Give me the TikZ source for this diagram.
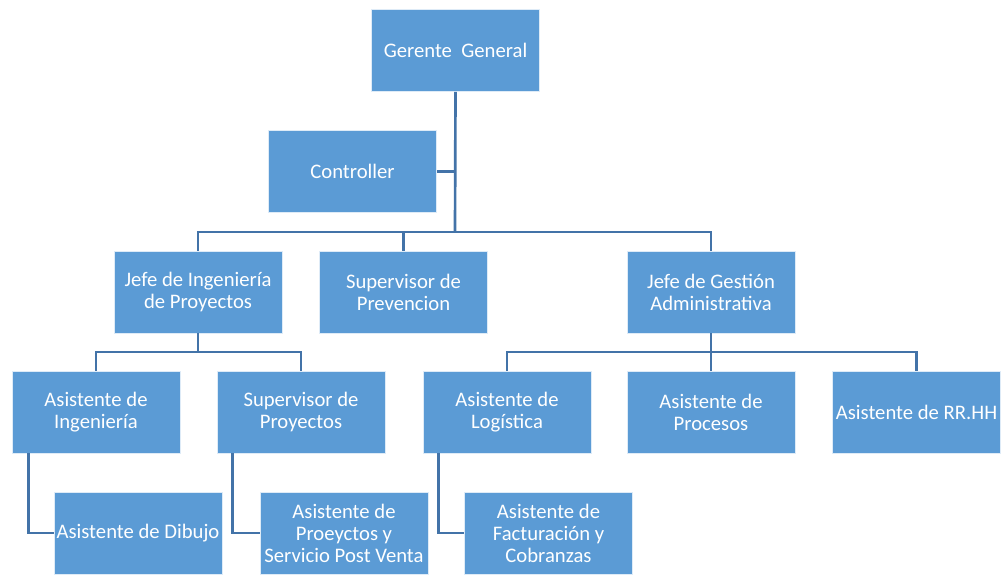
\documentclass[tikz,border=0pt]{standalone}
\usepackage{fontspec}
\setmainfont{Carlito}
\definecolor{boxblue}{HTML}{5B9BD5}
\definecolor{linkblue}{HTML}{4373A8}
\begin{document}
\begin{tikzpicture}[x=0.75pt,y=-0.75pt,
  unit/.style={rectangle, fill=boxblue, draw=white!80!boxblue, line width=0.6pt,
    minimum width=126pt, minimum height=61.5pt, inner sep=0pt, align=center,
    text=white, font=\fontsize{15.5}{16.5}\selectfont},
  link/.style={draw=linkblue, line width=2pt}]
\useasboundingbox (0,0) rectangle (1003,575);

% top of the chart
\node[unit] (gg)   at (455.5,50.5) {Gerente\ \ General};
\node[unit] (ctrl) at (352.5,171.5) {Controller};

% second level
\node[unit] (jip) at (198,292)   {Jefe de Ingeniería\\de Proyectos};
\node[unit] (sp)  at (403.5,292) {Supervisor de\\Prevencion};
\node[unit] (jga) at (711,292)   {Jefe de Gestión\\Administrativa};

% third level
\node[unit] (ai)  at (96,412)    {Asistente de\\Ingeniería};
\node[unit] (spy) at (301,412)   {Supervisor de\\Proyectos};
\node[unit] (al)  at (507,412)   {Asistente de\\Logística};
\node[unit] (ap)  at (711,412)   {Asistente de\\Procesos};
\node[unit] (arh) at (916.5,412) {Asistente de RR.HH};

% assistants hanging to the side
\node[unit] (ad)   at (138,533)   {Asistente de Dibujo};
\node[unit] (apsv) at (344,533)   {Asistente de\\Proeyctos y\\Servicio Post Venta};
\node[unit] (afc)  at (548.5,533) {Asistente de\\Facturación y\\Cobranzas};

% bus junctions
\coordinate (b1) at (455,232);
\coordinate (b2) at (198,352);
\coordinate (b3) at (711,352);

% connectors
\draw[link] (gg.south) -- (b1);
\draw[link] (ctrl.east) -- (ctrl.east -| b1);
\draw[link] (jip.north) |- (b1);
\draw[link] (sp.north) |- (b1);
\draw[link] (jga.north) |- (b1);

\draw[link] (jip.south) -- (b2);
\draw[link] (ai.north) |- (b2);
\draw[link] (spy.north) |- (b2);

\draw[link] (jga.south) -- (b3);
\draw[link] (al.north) |- (b3);
\draw[link] (ap.north) -- (b3);
\draw[link] (arh.north) |- (b3);

\draw[link] ([xshift=12.5pt]ai.south west) |- (ad.west);
\draw[link] ([xshift=12pt]spy.south west) |- (apsv.west);
\draw[link] ([xshift=12pt]al.south west) |- (afc.west);
\end{tikzpicture}
\end{document}
